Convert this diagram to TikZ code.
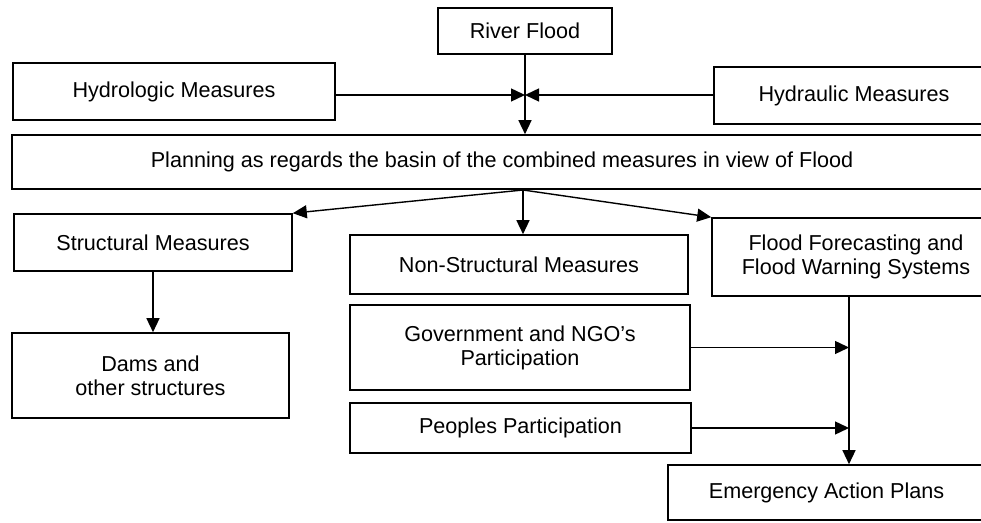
\documentclass[tikz,border=0pt]{standalone}
\usepackage{fontspec}
\setmainfont{Liberation Sans}
\usetikzlibrary{arrows.meta,positioning}

\tikzset{
  box/.style={draw,line width=.8pt,align=center,inner sep=2pt,
    font=\fontsize{10.8}{12}\selectfont},
  arr/.style={-{Triangle[length=7pt,width=6.5pt]},line width=.7pt}
}

\begin{document}
\begin{tikzpicture}[x=.5pt,y=-.5pt]
\useasboundingbox (0,0) rectangle (981,523);
\clip (0,0) rectangle (981,523);
% boxes
\node[box,minimum width=87pt,minimum height=23pt] (river) at (525,31) {River Flood};
\node[box,minimum width=161pt,minimum height=28.5pt] (hydrologic) at (174,91.5) {Hydrologic Measures};
\node[box,minimum width=140pt,minimum height=28.5pt] (hydraulic) at (854,95.5) {Hydraulic Measures};
\node[box,minimum width=490pt,minimum height=27pt] (planning) at (502,162) {Planning as regards the basin of the combined measures in view of Flood};
\node[box,minimum width=139pt,minimum height=28.5pt] (structural) at (153,242.5) {Structural Measures};
\node[box,minimum width=169pt,minimum height=29.5pt] (nonstruct) at (519,264.5) {Non-Structural Measures};
\node[box,minimum width=144pt,minimum height=39pt] (forecast) at (856,257) {Flood Forecasting and\\Flood Warning Systems};
\node[box,minimum width=138.5pt,minimum height=42.5pt] (dams) at (150.5,375.5) {Dams and\\other structures};
\node[box,minimum width=170pt,minimum height=42.5pt] (gov) at (520,347.5) {Government and NGO's\\Participation};
\node[box,minimum width=170.5pt,minimum height=25pt] (people) at (520.5,428) {Peoples Participation};
\node[box,minimum width=158.5pt,minimum height=27.5pt] (emergency) at (826.5,492.5) {Emergency Action Plans};

% connectors
\coordinate (meet) at (525,95);
\coordinate (fork) at (523,190);
\coordinate (drop) at (849,0);
\draw[arr] (river.south) -- (river.south |- planning.north);
\draw[arr] (hydrologic.east |- meet) -- (meet);
\draw[arr] (hydraulic.west |- meet) -- (meet);
\draw[arr] (fork) -- (structural.north east);
\draw[arr] (fork) -- (fork |- nonstruct.north);
\draw[arr] (fork) -- (forecast.north west);
\draw[arr] (structural.south) -- (structural.south |- dams.north);
\draw[arr] (drop |- forecast.south) -- (drop |- emergency.north);
\draw[arr] (gov.east) -- (gov.east -| drop);
\draw[arr] (people.east) -- (people.east -| drop);
\end{tikzpicture}
\end{document}
